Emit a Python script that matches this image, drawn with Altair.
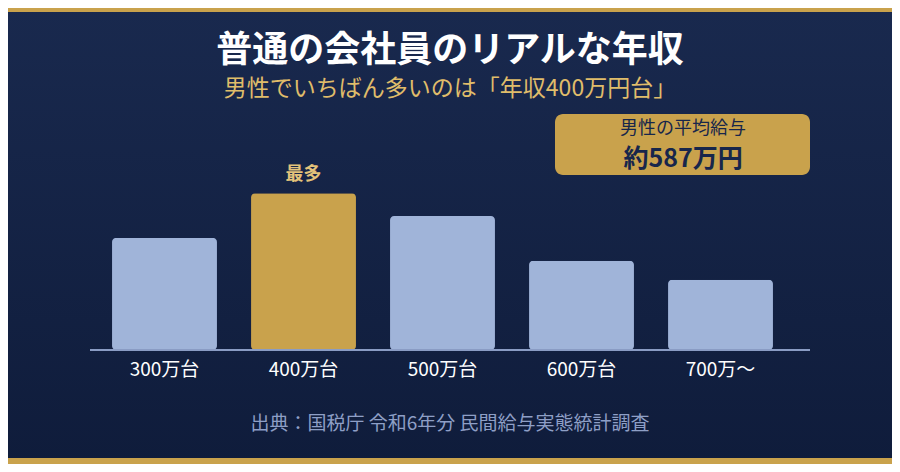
import pandas as pd
import altair as alt

# data (bar heights, arbitrary % units)
categories = ["300万台", "400万台", "500万台", "600万台", "700万〜"]
shares = [11.8, 16.5, 14.1, 9.4, 7.4]
top_flag = ["", "最多", "", "", ""]

FONT = "Noto Sans CJK JP"
GOLD = "#c9a24c"
NAVY = "#17264b"

df = pd.DataFrame({"cat": categories, "share": shares, "top": top_flag})
df["hl"] = df["top"] != ""
one = pd.DataFrame({"k": [0]})  # single row for decorations / text

# chart is 884x456 so the page (8px margin) fits the 900x472 window
# plot area: x 95..790, y 8..350 on the page
W, H = 695, 342

xenc = alt.X("cat:N", sort=categories, title=None,
             scale=alt.Scale(paddingInner=0.245, paddingOuter=0.1225),
             axis=alt.Axis(labelAngle=0, labelFontSize=19, labelColor="#ffffff", labelFontWeight=400,
                           labelFont=FONT, labelPadding=10, domain=False, ticks=False, grid=False, zindex=1))
yenc = alt.Y("share:Q", scale=alt.Scale(domain=[0, 36], nice=False), axis=None)

bg = alt.Chart(one).mark_rect(
    fill=alt.Gradient(gradient="linear", x1=0, x2=0, y1=0, y2=1,
                      stops=[alt.GradientStop(color="#19294e", offset=0),
                             alt.GradientStop(color="#0f1c3b", offset=1)])
).encode(x=alt.value(-87), x2=alt.value(797), y=alt.value(0), y2=alt.value(456))

strips = alt.Chart(pd.DataFrame({"y": [0, 450], "y2": [4, 456]})).mark_rect(color=GOLD).encode(
    x=alt.value(-87), x2=alt.value(797), y=alt.Y("y:Q", scale=None), y2="y2:Q")

bars = alt.Chart(df).mark_bar(cornerRadius=4).encode(
    x=xenc, y=yenc,
    color=alt.Color("hl:N", scale=alt.Scale(domain=[False, True], range=["#a0b4d9", GOLD]), legend=None),
)

top_label = alt.Chart(df).transform_filter("datum.top != ''").mark_text(
    font=FONT, fontSize=18, fontWeight="bold", color="#e3c27a", dy=-18
).encode(x=alt.X("cat:N", sort=categories), y="share:Q", text="top:N")

baseline = alt.Chart(one).mark_rule(color="#8a9cc4", strokeWidth=2).encode(
    x=alt.value(-5), x2=alt.value(715), y=alt.value(H))

title = alt.Chart(one).mark_text(font=FONT, fontSize=36, fontWeight="bold", color="#ffffff").encode(
    x=alt.value(355), y=alt.value(43), text=alt.value("普通の会社員のリアルな年収"))

subtitle = alt.Chart(one).mark_text(font=FONT, fontSize=23, fontWeight=400, color="#e0bd6a").encode(
    x=alt.value(355), y=alt.value(81), text=alt.value("男性でいちばん多いのは「年収400万円台」"))

box = alt.Chart(one).mark_rect(color=GOLD, cornerRadius=8).encode(
    x=alt.value(460), x2=alt.value(715), y=alt.value(106), y2=alt.value(167))

box_t1 = alt.Chart(one).mark_text(font=FONT, fontSize=18, fontWeight=400, color=NAVY).encode(
    x=alt.value(588), y=alt.value(121), text=alt.value("男性の平均給与"))

box_t2 = alt.Chart(one).mark_text(font=FONT, fontSize=25, fontWeight="bold", color=NAVY).encode(
    x=alt.value(588), y=alt.value(151), text=alt.value("約587万円"))

source = alt.Chart(one).mark_text(font=FONT, fontSize=19, fontWeight=400, color="#8e9fc6").encode(
    x=alt.value(355), y=alt.value(416), text=alt.value("出典：国税庁 令和6年分 民間給与実態統計調査"))

chart = alt.layer(bg, strips, bars, top_label, baseline, title, subtitle, box, box_t1, box_t2, source).properties(
    width=W, height=H,
    autosize=alt.AutoSizeParams(type="none"),
    padding={"left": 87, "top": 0, "right": 102, "bottom": 114},
).configure(background="#0f1c3b").configure_view(stroke=None)

chart.save("out.html", embed_options={"renderer": "svg", "actions": False})
